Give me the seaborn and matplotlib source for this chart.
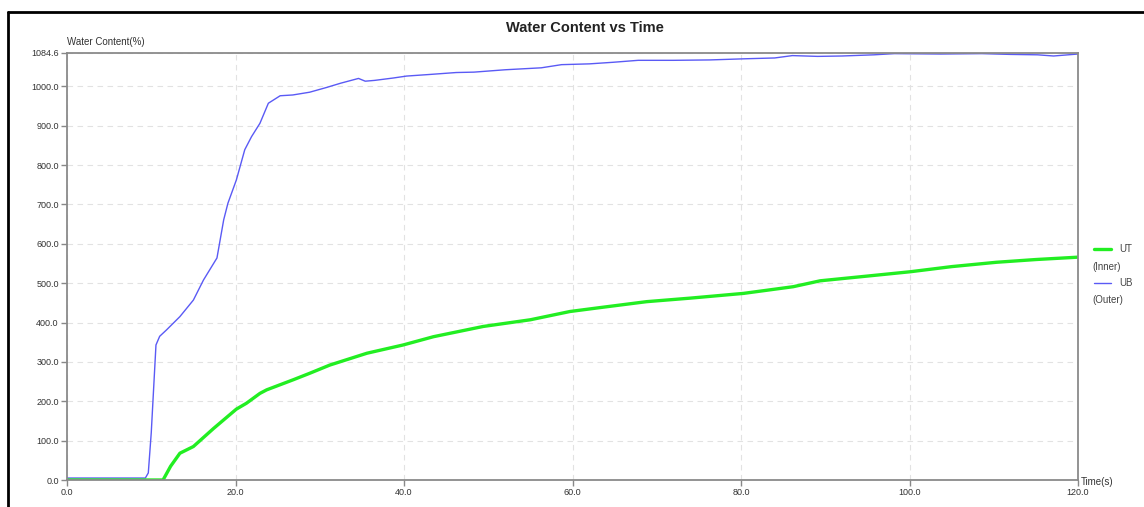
import numpy as np
import pandas as pd
import matplotlib
matplotlib.use("Agg")
import matplotlib.pyplot as plt
from matplotlib.lines import Line2D
import seaborn as sns

# UB (outer) series
ub_time = [0, 9.3, 9.65, 10.0, 10.56, 11.0, 11.8, 13.4, 15.0, 16.2, 17.8, 18.6, 19.1,
           20.1, 21.1, 21.9, 22.9, 23.9, 25.3, 26.8, 28.8, 30.8, 32.5, 34.6, 35.4, 36.5,
           38.7, 40.3, 43.0, 46.2, 48.3, 52.0, 56.3, 58.7, 62.0, 64.8, 67.8, 72.0, 76.3,
           80.6, 84.0, 86.1, 89.1, 92.0, 95.8, 98.2, 103.7, 108.6, 112.0, 115.2, 117.1, 120.0]
ub_water = [5, 5, 18, 120, 343, 365, 381, 415, 457, 508, 564, 661, 703,
            762, 839, 872, 906, 957, 976, 978, 985, 997, 1008, 1020, 1013, 1015,
            1021, 1026, 1030, 1035, 1036, 1042, 1047, 1055, 1057, 1061, 1066, 1066, 1067,
            1070, 1072, 1078, 1076, 1077, 1080, 1083, 1082, 1083, 1081, 1080, 1077, 1082]

# UT (inner) series
ut_time = [0, 11.4, 12.3, 13.4, 15.0, 17.4, 20.1, 21.3, 22.9, 23.7, 26.9, 28.8, 31.2,
           35.6, 39.9, 43.5, 49.4, 55.0, 59.7, 63.3, 68.8, 74.0, 80.3, 86.2, 89.4, 95.0,
           100.1, 105.0, 110.3, 115.0, 120.0]
ut_water = [0, 0, 35, 68, 85, 131, 180, 195, 220, 229, 255, 271, 292,
            322, 343, 364, 390, 407, 428, 438, 453, 462, 474, 491, 506, 518,
            529, 542, 553, 560, 566]

y_ticks = [0, 100, 200, 300, 400, 500, 600, 700, 800, 900, 1000, 1084.6]
x_ticks = [0, 20, 40, 60, 80, 100, 120]

ub = pd.DataFrame({"Time": ub_time, "Water": ub_water})
ut = pd.DataFrame({"Time": ut_time, "Water": ut_water})

sns.set_style("white")
plt.rcParams["font.family"] = ["Liberation Sans", "DejaVu Sans"]

fig = plt.figure(figsize=(11.44, 5.07), dpi=100)
ax = fig.add_axes([67 / 1144, 27 / 507, 1011 / 1144, 427 / 507])

green = "#22ee22"
blue = "#5a5af5"
sns.lineplot(data=ub, x="Time", y="Water", ax=ax, color=blue, linewidth=1.0)
sns.lineplot(data=ut, x="Time", y="Water", ax=ax, color=green, linewidth=2.4)

ax.set_xlim(0, 120)
ax.set_ylim(0, 1084.6)
ax.set_xticks(x_ticks)
ax.set_xticklabels([f"{v:.1f}" for v in x_ticks])
ax.set_yticks(y_ticks)
ax.set_yticklabels([f"{v:.1f}" for v in y_ticks])
ax.tick_params(axis="both", labelsize=6.5, labelcolor="#333333", color="#888888",
               direction="out", length=4, width=1, bottom=True, left=True, pad=2)
ax.grid(True, linestyle=(0, (5, 4)), color="#e2e2e2", linewidth=0.8)
for s in ax.spines.values():
    s.set_color("#8a8a8a")
    s.set_linewidth(1.3)
ax.set_xlabel("")
ax.set_ylabel("")

ax.text(0, 1.026, "Water Content(%)", transform=ax.transAxes, fontsize=7,
        color="#333333", ha="left", va="center")
ax.text(1.003, -0.004, "Time(s)", transform=ax.transAxes, fontsize=7,
        color="#333333", ha="left", va="center")
fig.text(585 / 1144, 1 - 28 / 507, "Water Content vs Time", fontsize=10.5,
         fontweight="bold", color="#222222", ha="center", va="center")

# legend, drawn to mimic the original layout
def fy(py):
    return 1 - py / 507

def fx(px):
    return px / 1144

fig.add_artist(Line2D([fx(1094), fx(1111)], [fy(249), fy(249)], color=green, linewidth=2.4))
fig.text(fx(1119), fy(249), "UT", fontsize=7, color="#444444", va="center")
fig.text(fx(1092), fy(267), "(Inner)", fontsize=7, color="#444444", va="center")
fig.add_artist(Line2D([fx(1094), fx(1111)], [fy(283), fy(283)], color=blue, linewidth=1.0))
fig.text(fx(1119), fy(283), "UB", fontsize=7, color="#444444", va="center")
fig.text(fx(1092), fy(300), "(Outer)", fontsize=7, color="#444444", va="center")

# black frame from the screenshot
fig.add_artist(Line2D([fx(8), 1], [fy(12), fy(12)], color="black", linewidth=2))
fig.add_artist(Line2D([fx(8), fx(8)], [fy(12), 0], color="black", linewidth=2))

fig.savefig("out.png", dpi=100)
